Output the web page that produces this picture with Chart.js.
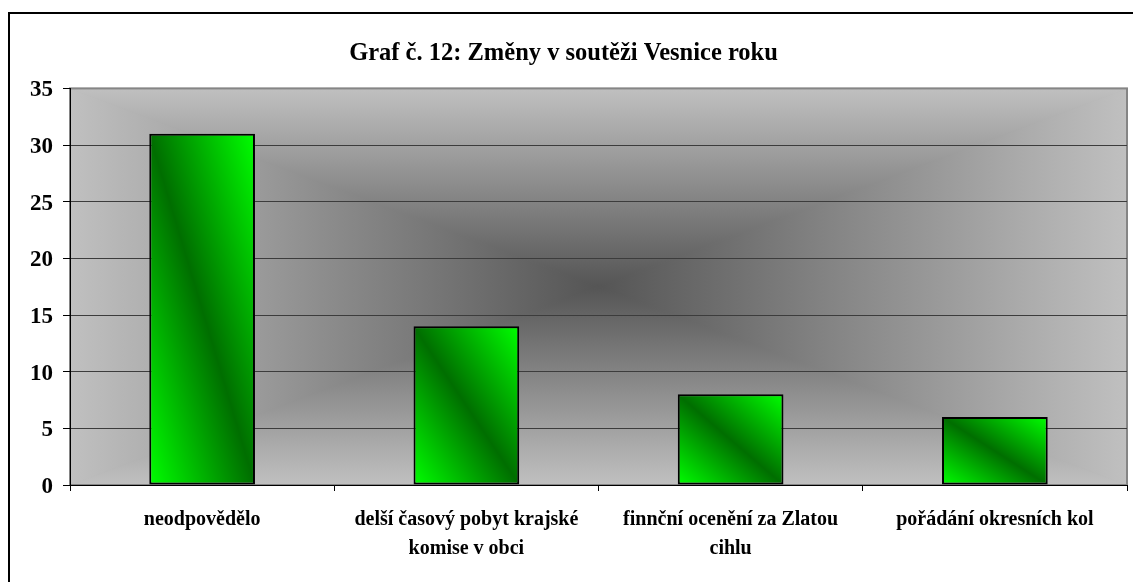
<!DOCTYPE html>
<html>
<head>
<meta charset="utf-8">
<script src="https://cdn.jsdelivr.net/npm/chart.js@4.4.0/dist/chart.umd.min.js"></script>
<style>
html, body { margin: 0; padding: 0; background: #fff; overflow: hidden; }
#frame { position: absolute; left: 8px; top: 12px; width: 1300px; height: 800px; border: 2px solid #000; }
#myChart { position: absolute; left: 0; top: 0; }
</style>
</head>
<body>
<div id="frame"></div>
<canvas id="myChart" width="1133" height="582"></canvas>
<script>
var titleText = 'Graf č. 12: Změny v soutěži Vesnice roku';
var categories = [
    'neodpovědělo',
    ['delší časový pobyt krajské', 'komise v obci'],
    ['finnční ocenění za Zlatou', 'cihlu'],
    'pořádání okresních kol'
];
var values = [31, 14, 8, 6];
var yMin = 0;
var yMax = 35;
var yStep = 5;

var serif = "'Liberation Serif', 'Times New Roman', serif";

// gray "from center" fill of the plot area (X-shaped gradient)
var plotBackground = {
    id: 'plotBackground',
    beforeDraw: function(chart) {
        var a = chart.chartArea, ctx = chart.ctx;
        var l = a.left, t = a.top, r = a.right, b = a.bottom;
        var cx = (l + r) / 2, cy = (t + b) / 2;
        var dark = '#555555', light = '#c0c0c0';
        ctx.save();
        ctx.fillStyle = '#8c8c8c';
        ctx.fillRect(l, t, r - l, b - t);
        var parts = [
            [[l, t], [r, t], [cx, t]],
            [[r, b], [l, b], [cx, b]],
            [[l, b], [l, t], [l, cy]],
            [[r, t], [r, b], [r, cy]]
        ];
        parts.forEach(function(p) {
            var g = ctx.createLinearGradient(cx, cy, p[2][0], p[2][1]);
            g.addColorStop(0, dark);
            g.addColorStop(1, light);
            ctx.beginPath();
            ctx.moveTo(cx, cy);
            ctx.lineTo(p[0][0], p[0][1]);
            ctx.lineTo(p[1][0], p[1][1]);
            ctx.closePath();
            ctx.fillStyle = g;
            ctx.fill();
            ctx.strokeStyle = g;
            ctx.lineWidth = 1;
            ctx.stroke();
        });
        ctx.strokeStyle = '#858585';
        ctx.lineWidth = 2;
        ctx.strokeRect(l, t, r - l, b - t);
        ctx.restore();
    }
};

function barFill(c) {
    var chart = c.chart;
    if (!chart.chartArea || c.type !== 'data') return '#00b000';
    var xs = chart.scales.x, ys = chart.scales.y;
    var w = (xs.width / categories.length) * 0.4;
    var cx = xs.getPixelForValue(c.dataIndex);
    var top = ys.getPixelForValue(c.raw), base = ys.getPixelForValue(yMin);
    var h = base - top;
    var cy = (top + base) / 2;
    var k = w * h / (h * h + w * w);
    var g = chart.ctx.createLinearGradient(cx - k * h, cy + k * w, cx + k * h, cy - k * w);
    g.addColorStop(0, '#00ff00');
    g.addColorStop(0.5, '#006e00');
    g.addColorStop(1, '#00ff00');
    return g;
}

var ctx = document.getElementById('myChart').getContext('2d');
var myChart = new Chart(ctx, {
    type: 'bar',
    data: {
        labels: categories,
        datasets: [
            {
                data: values,
                backgroundColor: barFill,
                borderColor: '#000',
                borderWidth: 2,
                borderSkipped: false,
                categoryPercentage: 0.4,
                barPercentage: 1
            }
        ]
    },
    options: {
        responsive: false,
        animation: false,
        layout: { padding: { left: 0, right: 6, top: 0, bottom: 0 } },
        plugins: {
            legend: { display: false },
            tooltip: { enabled: false },
            title: {
                display: true,
                text: titleText,
                color: '#000',
                font: { family: serif, size: 24.5, weight: 'bold', lineHeight: 1.2 },
                padding: { top: 39, bottom: 20 }
            }
        },
        scales: {
            x: {
                ticks: {
                    color: '#000',
                    font: { family: serif, size: 20, weight: 'bold', lineHeight: 1.45 },
                    padding: 14,
                    maxRotation: 0,
                    autoSkip: false
                },
                grid: { drawOnChartArea: false, tickLength: 6, tickColor: '#000', offset: true },
                border: { color: '#000', width: 1 },
                afterFit: function(s) { s.height = 97; }
            },
            y: {
                min: yMin,
                max: yMax,
                ticks: {
                    stepSize: yStep,
                    color: '#000',
                    font: { family: serif, size: 23, weight: 'bold' },
                    padding: 10,
                    labelOffset: 2
                },
                grid: {
                    color: function(c) { return c.tick && c.tick.value === yMax ? 'rgba(0,0,0,0)' : '#3c3c3c'; },
                    tickColor: '#000',
                    tickLength: 7,
                    lineWidth: 1
                },
                border: { color: '#000', width: 1 },
                afterFit: function(s) { s.width = 70; }
            }
        }
    },
    plugins: [plotBackground]
});
</script>
</body>
</html>
